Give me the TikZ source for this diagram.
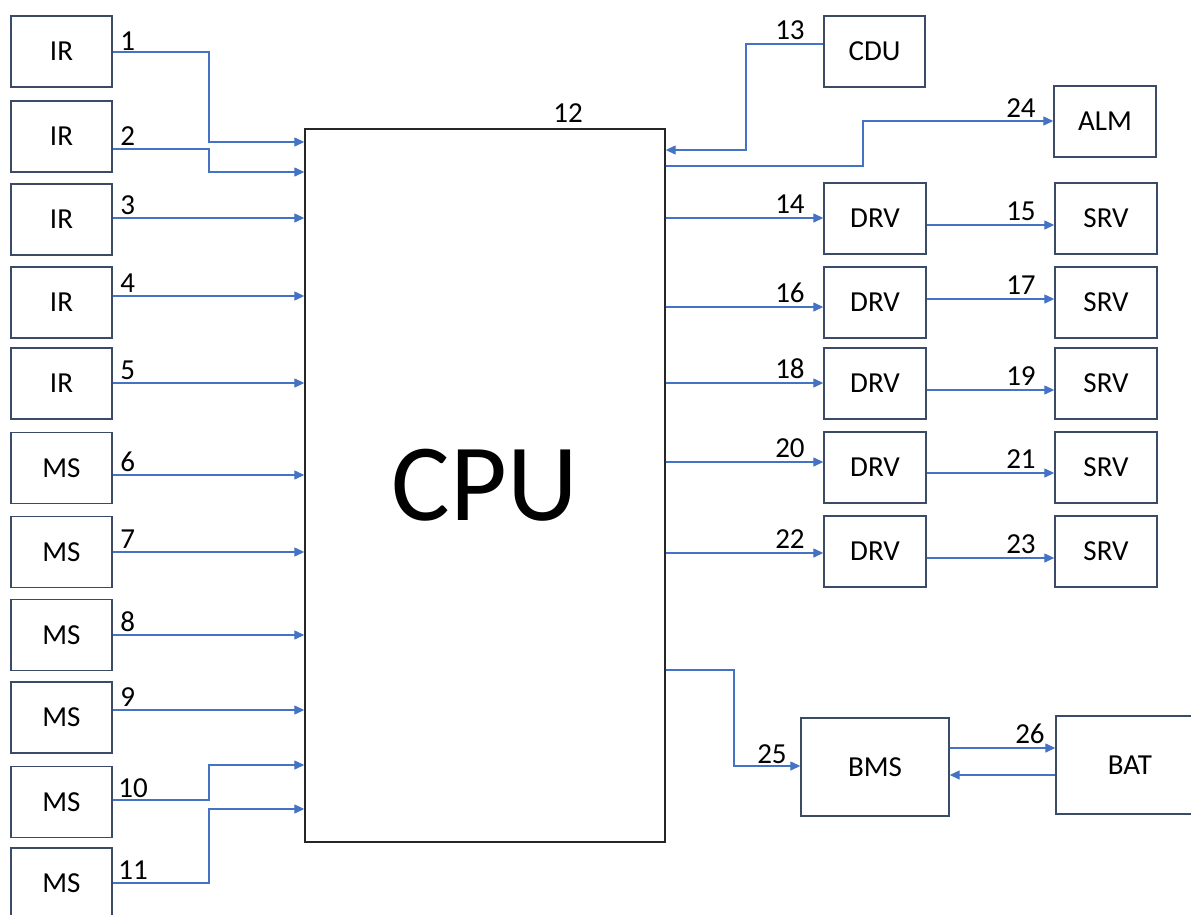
\documentclass[tikz,border=0pt]{standalone}
\usepackage{fontspec}
\setmainfont{Carlito}
\usetikzlibrary{arrows.meta}
\definecolor{boxline}{HTML}{3B4A66}
\definecolor{wire}{HTML}{4472C4}

\begin{document}
\begin{tikzpicture}[x=1pt,y=-1pt,
  blk/.style={draw=boxline,line width=1.4pt,inner sep=0pt,minimum width=101pt,minimum height=71pt,font=\fontsize{29}{34}\selectfont},
  conn/.style={draw=wire,line width=1.3pt,-{Triangle[length=10pt,width=9pt]}},
  num/.style={inner sep=0pt,font=\fontsize{29}{34}\selectfont}]
\useasboundingbox (0,0) rectangle (1191,914);
\clip (0,0) rectangle (1191,914);

% CPU
\node[draw=black!85,line width=1.4pt,minimum width=360pt,minimum height=713pt,inner sep=0pt,font=\fontsize{110}{120}\selectfont] (cpu) at (485,485.5) {CPU};
\node[num,anchor=base] (n12) at (568,122) {12};

% Sensors on the left
\foreach \i/\t/\y in {1/IR/51.5, 2/IR/136.5, 3/IR/219.5, 4/IR/302.5, 5/IR/383.5, 6/MS/468, 7/MS/552, 8/MS/635, 9/MS/717.5, 10/MS/802, 11/MS/883.5}
  \node[blk] (s\i) at (61.5,\y) {\t};

% straight inputs
\foreach \i/\y in {3/218, 4/296, 5/383, 6/475, 7/552, 8/635, 9/710}
  \draw[conn] (s\i.east |- 0,\y) -- (cpu.west |- 0,\y) node[num,at start,anchor=base west,xshift=7pt,yshift=4pt] (n\i) {\i};

% inputs with a bend
\draw[conn] (s1.east |- 0,52) node[num,anchor=base west,xshift=7pt,yshift=2pt] (n1) {1} -| (209,142) -- (cpu.west |- 0,142);
\draw[conn] (s2.east |- 0,149) node[num,anchor=base west,xshift=7pt,yshift=4pt] (n2) {2} -| (209,172) -- (cpu.west |- 0,172);
\draw[conn] (s10.east |- 0,800) node[num,anchor=base west,xshift=5pt,yshift=3pt] (n10) {10} -| (209,765) -- (cpu.west |- 0,765);
\draw[conn] (s11.east |- 0,883) node[num,anchor=base west,xshift=5pt,yshift=4pt] (n11) {11} -| (209,809) -- (cpu.west |- 0,809);

% Right side: display and alarm
\node[blk] (cdu) at (874.5,51.5) {CDU};
\node[blk,minimum width=102pt] (alm) at (1105,121.5) {ALM};
\draw[conn] (cdu.west |- 0,44) node[num,anchor=base east,xshift=-18pt,yshift=5pt] (n13) {13} -| (746,150) -- (cpu.east |- 0,150);
\draw[conn] (cpu.east |- 0,166) -| (863,121) -- (alm.west |- 0,121) node[num,at end,anchor=base east,xshift=-17pt,yshift=4pt] (n24) {24};

% Drivers and servos
\foreach \k/\y in {1/218.5, 2/302.5, 3/383.5, 4/467.5, 5/551.5} {
  \node[blk,minimum width=102pt] (drv\k) at (875,\y) {DRV};
  \node[blk,minimum width=102pt] (srv\k) at (1106,\y) {SRV};
}
\foreach \k/\a/\na/\b/\nb in {1/218/14/225/15, 2/307/16/299/17, 3/383/18/390/19, 4/462/20/473/21, 5/553/22/558/23} {
  \draw[conn] (cpu.east |- 0,\a) -- (drv\k.west |- 0,\a) node[num,at end,anchor=base east,xshift=-18pt,yshift=5pt] (n\na) {\na};
  \draw[conn] (drv\k.east |- 0,\b) -- (srv\k.west |- 0,\b) node[num,at end,anchor=base east,xshift=-18pt,yshift=5pt] (n\nb) {\nb};
}

% Battery
\node[blk,minimum width=148pt,minimum height=98pt] (bms) at (875,767) {BMS};
\node[blk,minimum width=148pt,minimum height=98pt] (bat) at (1130,765) {BAT};
\draw[conn] (cpu.east |- 0,670) -| (734,766) -- (bms.west |- 0,766) node[num,at end,anchor=base east,xshift=-13pt,yshift=3pt] (n25) {25};
\draw[conn] (bms.east |- 0,748) -- (bat.west |- 0,748) node[num,at end,anchor=base east,xshift=-10pt,yshift=5pt] (n26) {26};
\draw[conn] (bat.west |- 0,775) -- (bms.east |- 0,775);

\end{tikzpicture}
\end{document}
